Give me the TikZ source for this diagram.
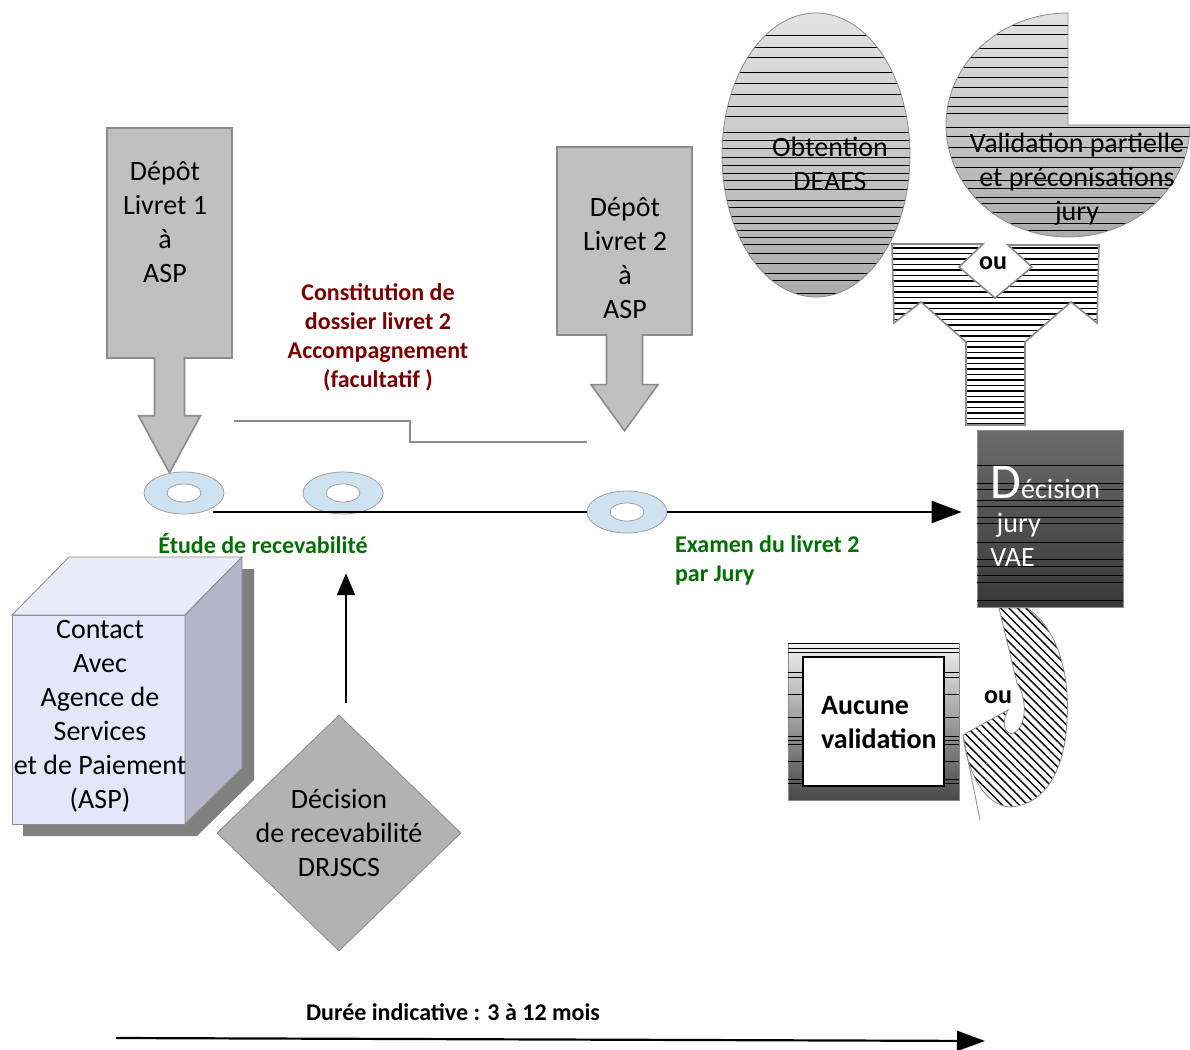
\documentclass[tikz,border=0pt]{standalone}
\usepackage{fontspec}
\setmainfont{Carlito}
\usepackage{tikz}
\usetikzlibrary{shapes,positioning,patterns.meta,arrows.meta}

\definecolor{arrowfill}{HTML}{C0C0C0}
\definecolor{arrowline}{HTML}{8C8C8C}
\definecolor{ringfill}{HTML}{CFE2EF}
\definecolor{ringline}{HTML}{A0A0A0}
\definecolor{stepred}{HTML}{7A0000}
\definecolor{stepgreen}{HTML}{007000}
\definecolor{cubefront}{HTML}{E6E6FA}
\definecolor{cubetop}{HTML}{EAEAF8}
\definecolor{cubeside}{HTML}{B4B5C9}
\definecolor{cubeshadow}{HTML}{808080}
\definecolor{drjfill}{HTML}{B2B2B2}
\definecolor{shapeline}{HTML}{8A8A8A}
\definecolor{lighttop}{HTML}{E2E2E2}
\definecolor{lightbot}{HTML}{ABABAB}
\definecolor{dectop}{HTML}{6B6B6B}
\definecolor{decbot}{HTML}{383838}
\definecolor{nonetop}{HTML}{F2F2F2}
\definecolor{nonebot}{HTML}{474747}

\begin{document}
\begin{tikzpicture}[x=0.5pt,y=-0.5pt]
 \tikzstyle{every node}=[font=\fontsize{14}{17}\selectfont]
 \tikzstyle{depot}=[arrow box,draw=arrowline,fill=arrowfill,inner sep=0pt,line width=0.8pt]
 \tikzstyle{ring}=[ellipse,draw=ringline,fill=ringfill,minimum width=40pt,minimum height=21pt,inner sep=0pt]
 \tikzstyle{hole}=[ellipse,draw=ringline,fill=white,minimum width=17pt,minimum height=9pt,inner sep=0pt]
 \tikzstyle{steplab}=[font=\bfseries\fontsize{12}{14.5}\selectfont]
 \tikzstyle{flow}=[line width=1.1pt,-{Triangle[length=15pt,width=11pt]}]
 \tikzstyle{hline}=[line width=0.45pt]
 \tikzstyle{oulab}=[font=\bfseries\fontsize{13}{15}\selectfont,inner sep=1pt]

\useasboundingbox (0,0) rectangle (1190,1050);

%% Depot arrows (livret 1 and 2)
\node[depot,minimum width=62.5pt,minimum height=115pt,arrow box arrows={south:57pt},
      arrow box shaft width=15pt,arrow box head extend=8pt,arrow box tip angle=57] (dep1) at (169.5,243) {};
\node[align=center] (dep1txt) at (165,222) {Dépôt\\Livret 1\\à\\ASP};

\node[depot,minimum width=67.5pt,minimum height=94pt,arrow box arrows={south:47.5pt},
      arrow box shaft width=18pt,arrow box head extend=7.75pt,arrow box tip angle=72] (dep2) at (624.5,241) {};
\node[align=center] (dep2txt) at (625,258) {Dépôt\\Livret 2\\à\\ASP};

%% accompagnement step
\coordinate (s0) at (234,421);
\coordinate (sk) at (410,442);
\coordinate (s1) at (587,442);
\draw[arrowline,line width=0.9pt] (s0) -| (sk) -- (s1);
\node[steplab,text=stepred,align=center] (accomp) at (378,337) {Constitution de\\dossier livret 2\\Accompagnement\\(facultatif )};

%% rings on the time line
\node[ring] (r1) at (184,493) {};
\node[hole] (r1h) at (r1) {};
\node[ring] (r2) at (343,493) {};
\node[hole] (r2h) at (r2) {};
\node[ring] (r3) at (627,512) {};
\node[hole] (r3h) at (r3) {};

%% Decision jury VAE
\node[minimum width=73pt,minimum height=88.5pt,draw=shapeline,top color=dectop,bottom color=decbot] (decision) at (1050,518.5) {};
\foreach \yy in {465,483,489,500,506,517,523,542,559,566,575,582,600}
  \draw[hline] (decision.west |- 0,\yy) -- (decision.east |- 0,\yy);
\node[text=white,align=left,anchor=north west,inner sep=0pt] (dectxt) at (990,466)
  {{\fontsize{25}{25}\selectfont D}écision\\\ jury\\VAE};

\draw[flow] (r1.south east |- r3) -- (r3) -- ([xshift=-7.5pt]decision.west |- r3);

\node[steplab,text=stepgreen] (etude) at (263,544) {Étude de recevabilité};
\node[steplab,text=stepgreen,align=left,anchor=west] (examen) at (668,560) {Examen du livret 2\\par Jury};

%% ASP cube
\fill[cubeshadow] (23,627) -- (80,569) -- (254,569) -- (254,780) -- (197,836) -- (23,836) -- cycle;
\filldraw[fill=cubefront,draw=shapeline] (12,615) rectangle (185,824);
\filldraw[fill=cubetop,draw=shapeline] (12,615) -- (69,557) -- (242,557) -- (185,615) -- cycle;
\filldraw[fill=cubeside,draw=shapeline] (185,615) -- (242,557) -- (242,768) -- (185,824) -- cycle;
\node[align=center] (contact) at (100,716) {Contact\\Avec\\Agence de\\Services\\et de Paiement\\(ASP)};

%% DRJSCS
\node[diamond,draw=shapeline,fill=drjfill,minimum width=122pt,minimum height=118pt,inner sep=0pt] (drj) at (339,833) {};
\node[align=center] (drjtxt) at (drj) {Décision\\de recevabilité\\DRJSCS};
\draw[line width=1.1pt,-{Triangle[length=11pt,width=9pt]}] ([shift={(3.5pt,6pt)}]drj.north) -- ([xshift=3.5pt,yshift=-6pt]drj.north |- etude.south);

%% duree
\coordinate (d0) at (116,1038);
\coordinate (d1) at (985,1041);
\draw[line width=1.1pt,-{Triangle[length=14pt,width=10pt]}] (d0) -- (d1);
\node[steplab] (duree) at (453,1012) {Durée indicative : 3 à 12 mois};

%% Obtention DEAES
\shade[top color=lighttop,bottom color=lightbot] (816,155) ellipse [x radius=47pt,y radius=71pt];
\begin{scope}
  \clip (816,155) ellipse [x radius=47pt,y radius=71pt];
  \foreach \yy in {35,47,57,72,83,94,106,116,132,140,148,157,165,173,180,189,200,207,216,223,230,237,244,253,263,273,280,293}
    \draw[hline] (700,\yy) -- (930,\yy);
\end{scope}
\draw[shapeline] (816,155) ellipse [x radius=47pt,y radius=71pt];
\node[align=center] (obtention) at (830,164) {Obtention\\DEAES};

%% Validation partielle
\shade[top color=lighttop,bottom color=lightbot] (1068,125) -- (1068,13) arc[start angle=90,end angle=360,x radius=61pt,y radius=56pt] -- cycle;
\begin{scope}
  \clip (1068,125) -- (1068,13) arc[start angle=90,end angle=360,x radius=61pt,y radius=56pt] -- cycle;
  \foreach \yy in {25,34,48,57,67,77,87,97,106,113,127,136,147,157,167,180,188,197,203,212,223,230}
    \draw[hline] (930,\yy) -- (1200,\yy);
\end{scope}
\draw[shapeline] (1068,125) -- (1068,13) arc[start angle=90,end angle=360,x radius=61pt,y radius=56pt] -- cycle;
\node[align=center] (partielle) at (1077,179) {Validation partielle\\et préconisations\\jury};

%% ou (merge)
\begin{scope}
  \clip (892,244) -- (983,244) -- (959,267) -- (995,298) -- (1032,267) -- (1008,245) -- (1099,245)
    -- (1097,323) -- (1071,302) -- (1025,342) -- (1025,425) -- (966,425) -- (966,342)
    -- (921,302) -- (894,323) -- cycle;
  \foreach \yy in {248,253.5,...,426}
    \draw[line width=0.9pt] (880,\yy) -- (1110,\yy);
\end{scope}
\draw[shapeline,line width=0.8pt]
  (892,244) -- (983,244) -- (959,267) -- (995,298) -- (1032,267) -- (1008,245) -- (1099,245)
  -- (1097,323) -- (1071,302) -- (1025,342) -- (1025,425) -- (966,425) -- (966,342)
  -- (921,302) -- (894,323) -- cycle;
\node[oulab] (ou1) at (993,263) {ou};

%% ou (hook)
\coordinate (h0) at (963,735);
\coordinate (h1) at (980,820);
\draw[shapeline,preaction={fill=white},pattern={Lines[angle=-45,distance=3pt,line width=0.7pt]}]
  (999,608) -- (1027,608) .. controls (1060,630) and (1070,680) .. (1067,720)
  .. controls (1065,770) and (1045,805) .. (1010,807)
  .. controls (985,805) and (968,775) .. (h0) -- (1008,710)
  .. controls (1000,725) and (1006,736) .. (1014,733)
  .. controls (1026,727) and (1028,700) .. (1017,683) -- cycle;
\draw[shapeline] (h0) -- (h1);
\node[oulab] (ou2) at (998,697) {ou};

%% Aucune validation
\node[minimum width=85.5pt,minimum height=78.5pt,draw=shapeline,top color=nonetop,bottom color=nonebot] (aucune) at (873.5,721.5) {};
\foreach \yy in {643,648,652,672,677,694,717,736,740,744,761,779,783}
  \draw[hline] (aucune.west |- 0,\yy) -- (aucune.east |- 0,\yy);
\node[draw=black,fill=white,line width=0.8pt,minimum width=70.5pt,minimum height=64.5pt] (aucin) at (873.5,721.5) {};
\node[font=\bfseries\fontsize{14}{17}\selectfont,align=left,anchor=west] (auctxt) at (814,723) {Aucune\\validation};

\end{tikzpicture}
\end{document}
